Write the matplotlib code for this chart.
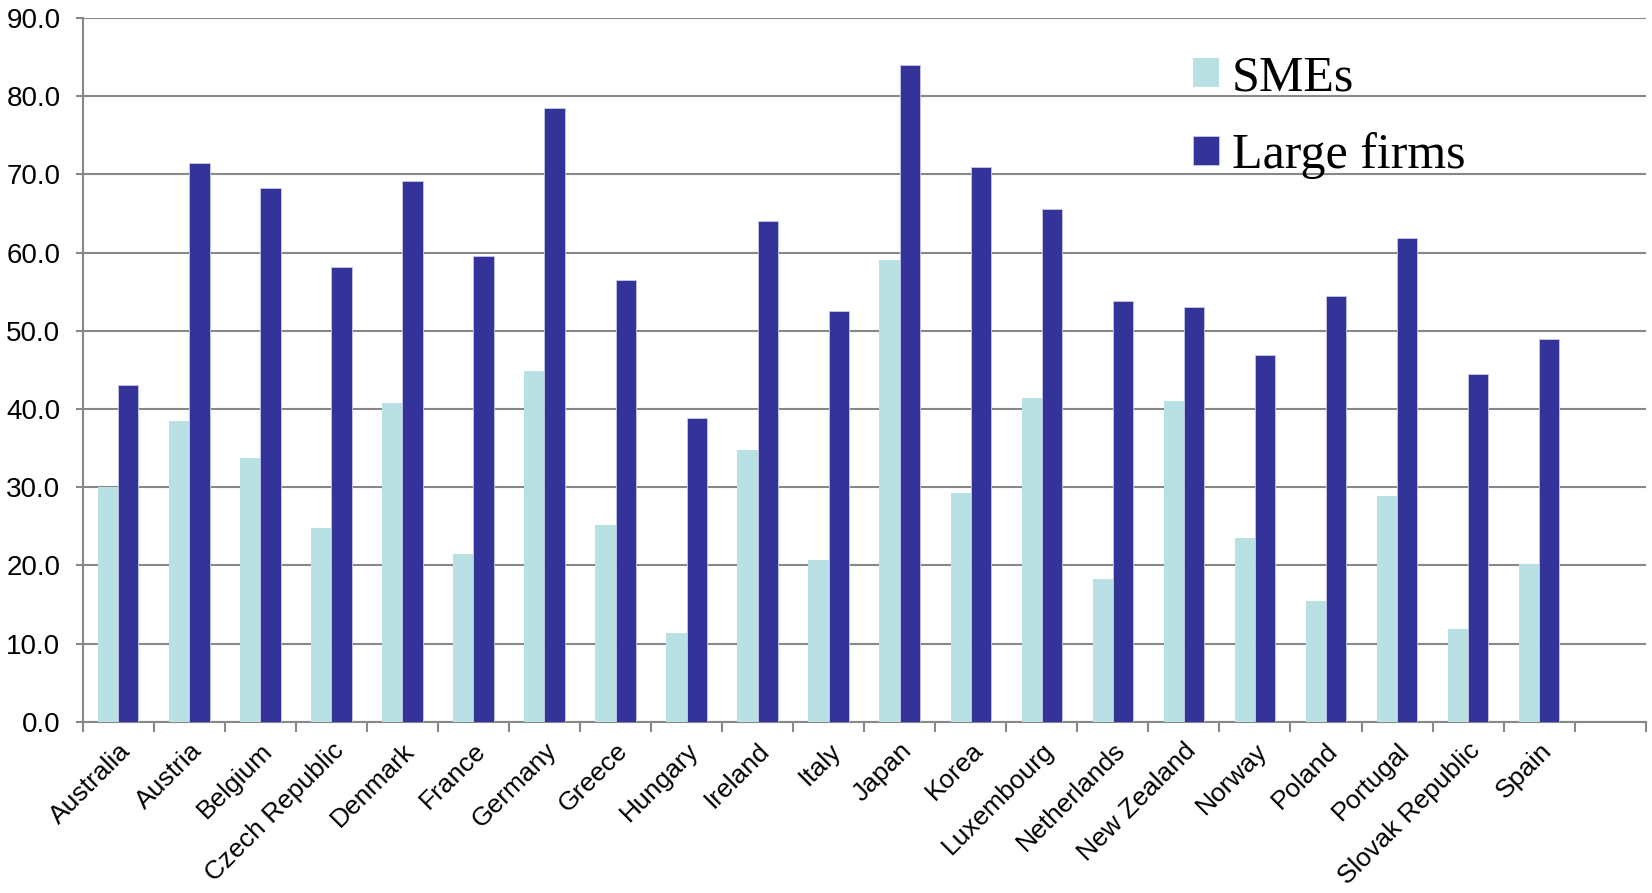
import matplotlib
matplotlib.use('agg')
import matplotlib.pyplot as plt
import numpy as np

countries = ['Australia', 'Austria', 'Belgium', 'Czech Republic', 'Denmark',
             'France', 'Germany', 'Greece', 'Hungary', 'Ireland', 'Italy',
             'Japan', 'Korea', 'Luxembourg', 'Netherlands', 'New Zealand',
             'Norway', 'Poland', 'Portugal', 'Slovak Republic', 'Spain']
smes = [30.0, 38.5, 33.7, 24.8, 40.8, 21.5, 44.8, 25.1, 11.4, 34.8, 20.7,
        59.0, 29.2, 41.4, 18.3, 41.0, 23.5, 15.5, 28.9, 11.9, 20.2]
large_firms = [43.0, 71.4, 68.3, 58.2, 69.2, 59.6, 78.5, 56.5, 38.8, 64.1, 52.5,
               84.0, 70.9, 65.6, 53.8, 53.0, 46.9, 54.4, 61.8, 44.5, 48.9]
yticks = np.arange(0, 91, 10)

SME_COLOR = '#b9e0e3'
LARGE_COLOR = '#333399'
GRID = '#888888'

W, H = 1652, 893
fig = plt.figure(figsize=(W / 100, H / 100), dpi=100)
ax = fig.add_axes([82.7 / W, 1 - 721.7 / H, (1645.7 - 82.7) / W, (721.7 - 18) / H])

x = np.arange(len(countries))
bw = 0.285
ax.bar(x - bw / 2, smes, bw, color=SME_COLOR, label='SMEs', zorder=3)
ax.bar(x + bw / 2, large_firms, bw, color=LARGE_COLOR, label='Large firms',
       edgecolor='#c9c9e8', linewidth=0.6, zorder=3)

# one spare slot on the right, as in the original sheet
ax.set_xlim(-0.5, len(countries) + 0.5)
ax.set_ylim(0, 90)

ax.set_yticks(yticks)
ax.set_yticklabels(['%.1f' % v for v in yticks])
ax.yaxis.grid(True, color=GRID, linewidth=1.5, zorder=0)
ax.set_axisbelow(True)

# category boundaries carry the tick marks, labels sit at the centres
ax.set_xticks(x)
ax.set_xticks(np.arange(-0.5, len(countries) + 1, 1.0), minor=True)
ax.tick_params(axis='x', which='major', length=0, pad=12)
ax.tick_params(axis='x', which='minor', length=7, width=1.5, color=GRID)
ax.tick_params(axis='y', length=5, width=1.5, color=GRID, pad=11)
ax.set_xticklabels(countries, rotation=45, ha='right', rotation_mode='anchor',
                   fontsize=19, family='Liberation Sans')
for lab in ax.get_yticklabels():
    lab.set_fontsize(20)
    lab.set_family('Liberation Sans')

for side in ('top', 'right'):
    ax.spines[side].set_visible(False)
for side in ('left', 'bottom'):
    ax.spines[side].set_color(GRID)
    ax.spines[side].set_linewidth(1.5)

leg = ax.legend(loc='upper left', bbox_to_anchor=(1192.7 / W, 1 - 55 / H),
                bbox_transform=fig.transFigure, frameon=False,
                prop={'family': 'Liberation Serif', 'size': 36},
                handlelength=0.52, handleheight=0.52, handletextpad=0.26,
                labelspacing=0.62, borderpad=0, borderaxespad=0)

plt.savefig('out.png', dpi=100)
plt.close()
